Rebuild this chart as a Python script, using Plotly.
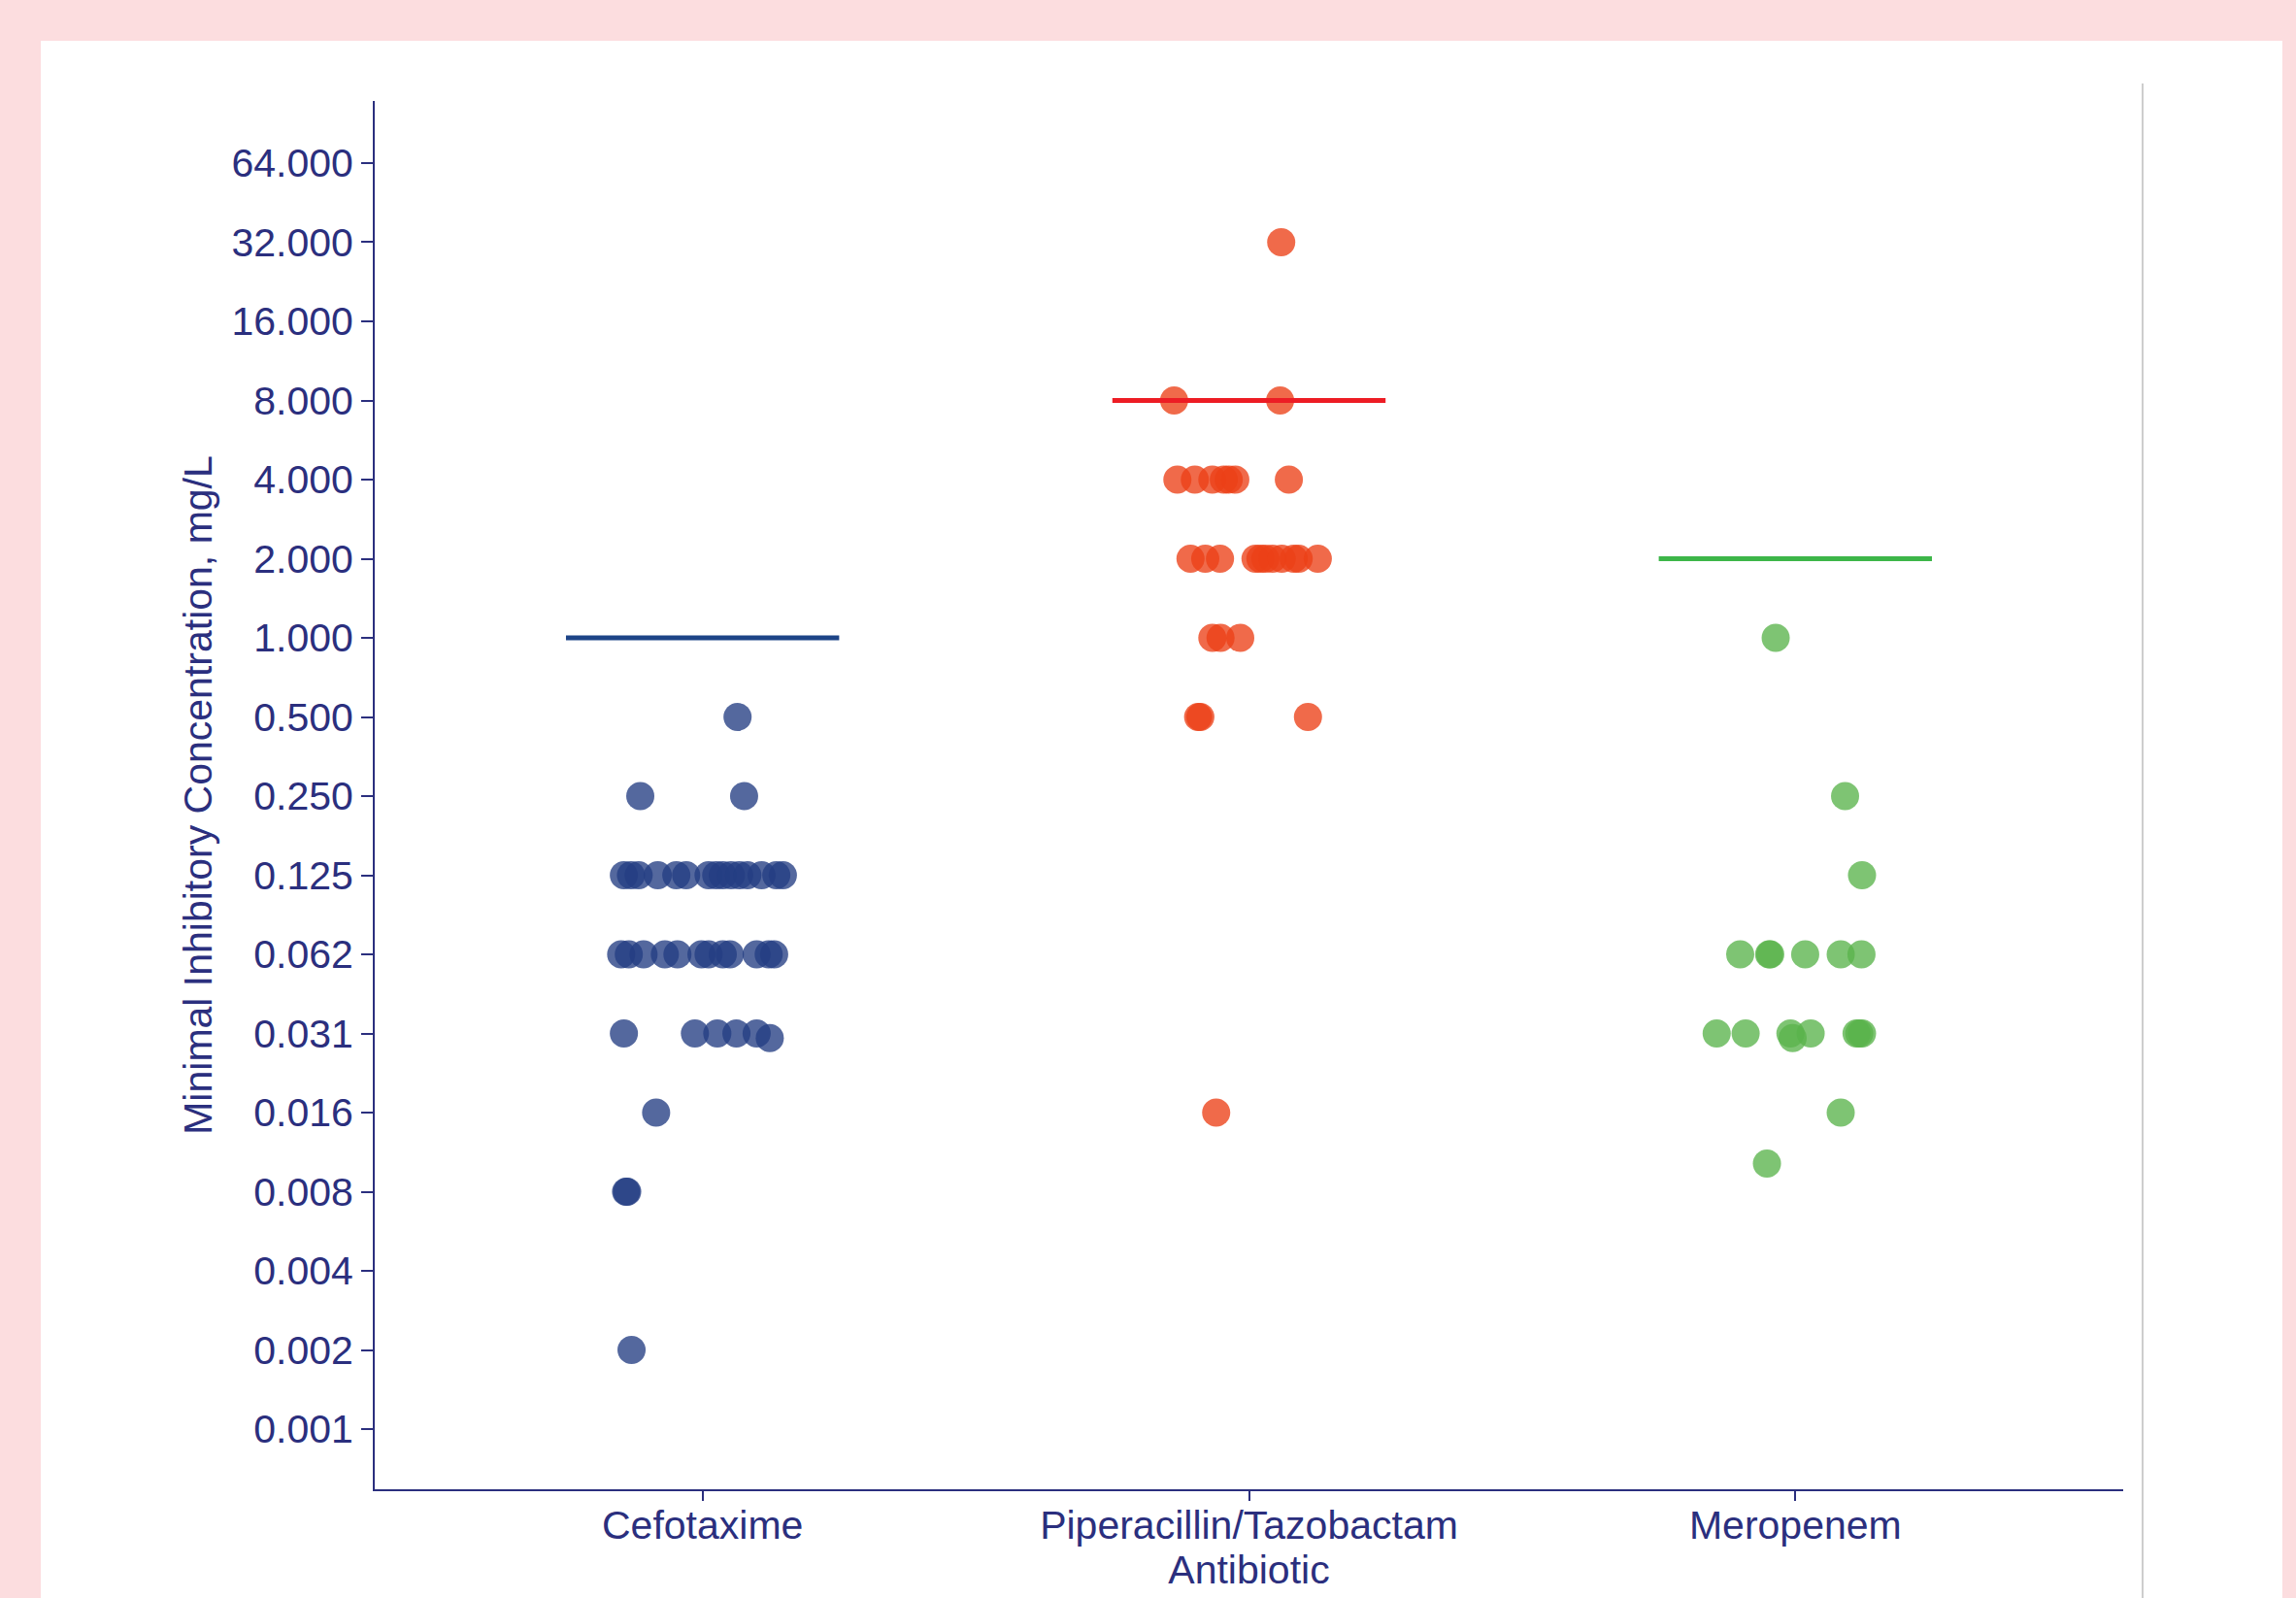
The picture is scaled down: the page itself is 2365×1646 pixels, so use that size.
import math
import plotly.graph_objects as go

# ---------------- data ----------------
categories = ["Cefotaxime", "Piperacillin/Tazobactam", "Meropenem"]
breakpoints = [1.0, 8.0, 2.0]

cef_mic = [0.5,
           0.25, 0.25,
           0.125, 0.125, 0.125, 0.125, 0.125, 0.125, 0.125, 0.125, 0.125, 0.125, 0.125, 0.125, 0.125, 0.125, 0.125,
           0.0625, 0.0625, 0.0625, 0.0625, 0.0625, 0.0625, 0.0625, 0.0625, 0.0625, 0.0625, 0.0625, 0.0625,
           0.03125, 0.03125, 0.03125, 0.03125, 0.03125, 0.030,
           0.015625,
           0.0078125, 0.0078125,
           0.001953]
cef_jitter = [0.064,
              -0.114, 0.076,
              -0.144, -0.131, -0.117, -0.082, -0.048, -0.030, 0.011, 0.025, 0.037, 0.052, 0.067, 0.082, 0.108, 0.135, 0.147,
              -0.149, -0.135, -0.108, -0.069, -0.046, -0.002, 0.011, 0.037, 0.050, 0.099, 0.121, 0.131,
              -0.144, -0.014, 0.027, 0.062, 0.099, 0.123,
              -0.085,
              -0.140, -0.138,
              -0.130]

pip_mic = [32.0,
           8.0, 8.0,
           4.0, 4.0, 4.0, 4.0, 4.0, 4.0, 4.0,
           2.0, 2.0, 2.0, 2.0, 2.0, 2.0, 2.0, 2.0, 2.0, 2.0, 2.0,
           1.0, 1.0, 1.0,
           0.5, 0.5, 0.5,
           0.015625]
pip_jitter = [0.059,
              -0.137, 0.057,
              -0.131, -0.099, -0.067, -0.046, -0.037, -0.025, 0.073,
              -0.107, -0.080, -0.053, 0.012, 0.021, 0.030, 0.043, 0.060, 0.082, 0.091, 0.126,
              -0.067, -0.052, -0.016,
              -0.093, -0.089, 0.108,
              -0.060]

mer_mic = [1.0,
           0.25,
           0.125,
           0.0625, 0.0625, 0.0625, 0.0625, 0.0625, 0.0625,
           0.03125, 0.03125, 0.03125, 0.03125, 0.03125, 0.03125, 0.03125, 0.030,
           0.015625,
           0.010]
mer_jitter = [-0.036,
              0.091,
              0.122,
              -0.101, -0.048, -0.046, 0.018, 0.083, 0.121,
              -0.144, -0.091, -0.009, 0.028, 0.112, 0.117, 0.122, -0.005,
              0.083,
              -0.052]

tick_values = [64, 32, 16, 8, 4, 2, 1, 0.5, 0.25, 0.125, 0.0625, 0.03125,
               0.015625, 0.0078125, 0.00390625, 0.001953125, 0.0009765625]
tick_labels = ["64.000", "32.000", "16.000", "8.000", "4.000", "2.000", "1.000",
               "0.500", "0.250", "0.125", "0.062", "0.031", "0.016", "0.008",
               "0.004", "0.002", "0.001"]

# ---------------- styling ----------------
NAVY = "#2B2F7E"
FONT = "Liberation Sans, Arial, Helvetica, sans-serif"
point_colors = ["rgba(36,62,131,0.78)", "rgba(236,64,23,0.78)", "rgba(90,179,76,0.78)"]
line_colors = ["#1D4487", "#ED1C24", "#3DB649"]

groups = [(cef_mic, cef_jitter), (pip_mic, pip_jitter), (mer_mic, mer_jitter)]

fig = go.Figure()

for i, (mic, jit) in enumerate(groups):
    fig.add_trace(go.Scatter(
        x=[i + j for j in jit], y=mic, mode="markers",
        marker=dict(size=29, color=point_colors[i], line=dict(width=0)),
        showlegend=False, hoverinfo="y"))
    fig.add_trace(go.Scatter(
        x=[i - 0.25, i + 0.25], y=[breakpoints[i], breakpoints[i]], mode="lines",
        line=dict(color=line_colors[i], width=5),
        showlegend=False, hoverinfo="skip"))

lo = math.log10(2 ** -10.76)
hi = math.log10(2 ** 6.785)
xr = [-0.6, 2.6]

fig.update_layout(
    width=2365, height=1646,
    margin=dict(l=386, r=178, t=104, b=112),
    paper_bgcolor="#FCDDDF",
    plot_bgcolor="white",
    font=dict(family=FONT, size=41, color=NAVY),
    xaxis=dict(
        range=xr, tickmode="array", tickvals=[0, 1, 2], ticktext=categories,
        showline=True, linecolor=NAVY, linewidth=2, ticks="",
        showgrid=False, zeroline=False,
        tickfont=dict(size=41, color=NAVY),
        title=dict(text="Antibiotic", font=dict(size=41, color=NAVY), standoff=9),
    ),
    xaxis2=dict(
        range=xr, overlaying="x", anchor="y", side="bottom",
        tickmode="array", tickvals=[0, 1, 2], showticklabels=False,
        ticks="outside", ticklen=11, tickwidth=1.5, tickcolor=NAVY,
        showline=False, showgrid=False, zeroline=False,
    ),
    yaxis=dict(
        type="log", range=[lo, hi], tickmode="array", tickvals=tick_values, ticktext=tick_labels,
        showline=True, linecolor=NAVY, linewidth=2, ticks="outside", ticklen=12,
        tickwidth=1.5, tickcolor=NAVY, showgrid=False, zeroline=False,
        tickfont=dict(size=41, color=NAVY),
        title=dict(text="Minimal Inhibitory Concentration, mg/L", font=dict(size=41, color=NAVY), standoff=7),
    ),
    shapes=[
        dict(type="rect", xref="paper", yref="paper", x0=-0.191, x1=1.091, y0=-0.1, y1=1.0434,
             fillcolor="white", line=dict(width=0), layer="below"),
        dict(type="line", xref="paper", yref="paper", x0=1.0111, x1=1.0111, y0=-0.1, y1=1.0126,
             line=dict(color="#BDBDBD", width=1.5), layer="below"),
    ],
)

# invisible trace to activate the tick-only overlay axis
fig.add_trace(go.Scatter(x=[0], y=[1], xaxis="x2", mode="markers",
                         marker=dict(opacity=0), showlegend=False, hoverinfo="skip"))

fig.write_html(
    "out.html",
    config={"displayModeBar": False},
    post_script="document.body.style.margin='0';document.body.style.overflow='hidden';",
)
